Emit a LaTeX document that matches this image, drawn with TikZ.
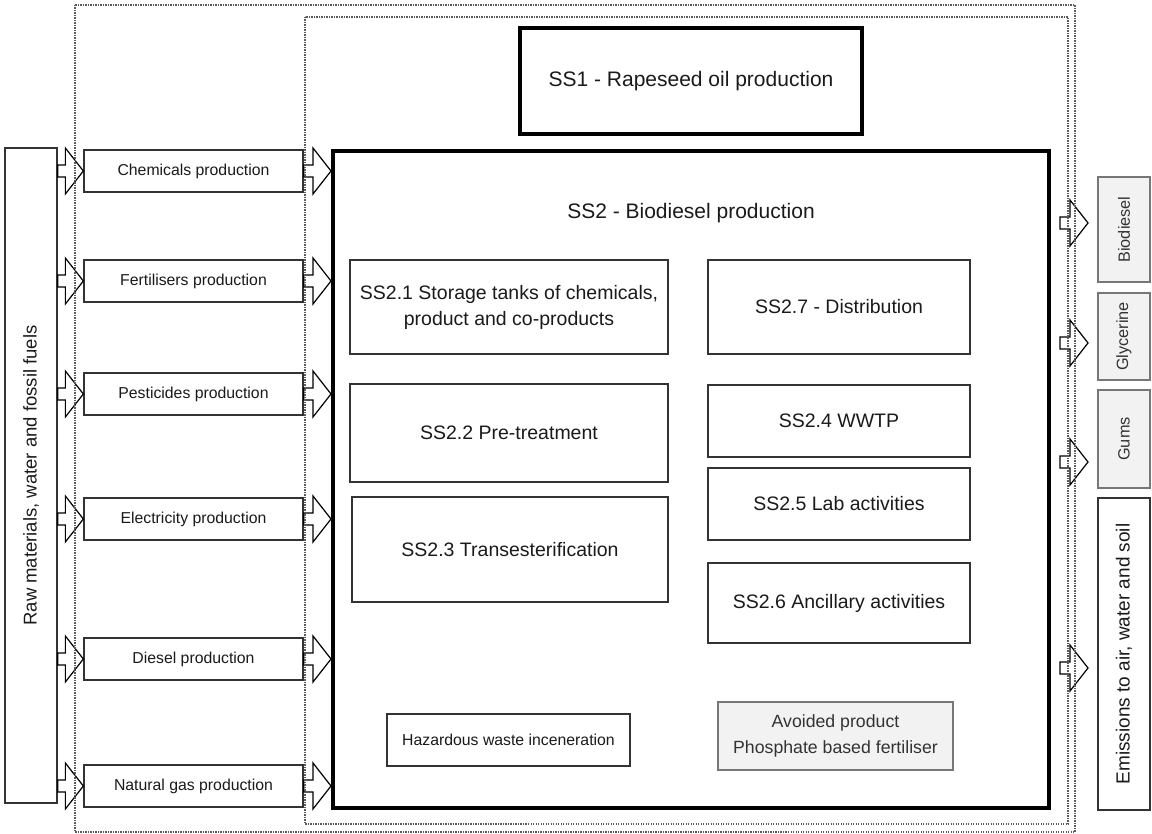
\documentclass[tikz,border=0pt]{standalone}
\usepackage{fontspec}
\setmainfont{Liberation Sans}
\usetikzlibrary{calc}

\definecolor{ink}{HTML}{1A1A1A}
\definecolor{edge}{HTML}{333333}
\definecolor{greyfill}{HTML}{F2F2F2}
\definecolor{greyedge}{HTML}{777777}
\definecolor{greytext}{HTML}{333333}
\definecolor{dotgrey}{HTML}{5A5A5A}

\tikzset{
  smalltext/.style={font=\fontsize{15.8}{19}\selectfont},
  outtext/.style={font=\fontsize{16.3}{19}\selectfont},
  midtext/.style={font=\fontsize{19.5}{26}\selectfont},
  bigtext/.style={font=\fontsize{21}{25}\selectfont},
  box/.style={draw=edge, line width=1.3pt, inner sep=0pt, align=center, text=ink},
  greybox/.style={draw=greyedge, line width=1.3pt, fill=greyfill, inner sep=0pt,
    align=center, text=greytext},
  frame/.style={draw=black, line width=4pt, inner sep=0pt, align=center, text=ink},
  blockarrow/.style={draw=black, line width=1.2pt, line join=miter},
  boundary/.style={draw=dotgrey, line width=1.3pt, dash pattern=on 1.3pt off 1.2pt}
}

% hollow block arrow: shaft starts at the x of #1, tip at #2
\newcommand\blockarr[2]{%
  \draw[blockarrow] let \p1=#1, \p2=#2 in
    (\x1,\y2+6pt) -- (\x2-18pt,\y2+6pt) -- (\x2-18pt,\y2+23pt) -- (\x2,\y2)
    -- (\x2-18pt,\y2-23pt) -- (\x2-18pt,\y2-6pt) -- (\x1,\y2-6pt) -- cycle;}

\begin{document}
\begin{tikzpicture}[x=1pt, y=-1pt]
\useasboundingbox (0,0) rectangle (1152,834);

% subsystem frames
\node[frame, bigtext, minimum width=342pt, minimum height=106pt] (ss1) at (691,81)
  {SS1 - Rapeseed oil production};
\node[frame, minimum width=716pt, minimum height=657pt] (ss2) at (691,479.5) {};
\node[bigtext, text=ink, inner sep=0pt] (ss2title) at (691,213) {SS2 - Biodiesel production};

% SS2 sub-units
\node[box, midtext, minimum width=318pt, minimum height=94pt] (s21) at (509,307)
  {SS2.1 Storage tanks of chemicals,\\product and co-products};
\node[box, midtext, minimum width=262pt, minimum height=94pt] (s27) at (839,307)
  {SS2.7 - Distribution};
\node[box, midtext, minimum width=318pt, minimum height=98pt] (s22) at (509,433)
  {SS2.2 Pre-treatment};
\node[box, midtext, minimum width=262pt, minimum height=72pt] (s24) at (839,421)
  {SS2.4 WWTP};
\node[box, midtext, minimum width=316pt, minimum height=105pt] (s23) at (510,549.5)
  {SS2.3 Transesterification};
\node[box, midtext, minimum width=262pt, minimum height=72pt] (s25) at (839,504)
  {SS2.5 Lab activities};
\node[box, midtext, minimum width=262pt, minimum height=80pt] (s26) at (839,603)
  {SS2.6 Ancillary activities};
\node[box, smalltext, minimum width=243pt, minimum height=52pt] (haz) at (508.5,740)
  {Hazardous waste inceneration};
\node[greybox, font=\fontsize{17.7}{26}\selectfont, minimum width=235pt, minimum height=68pt]
  (avoid) at (835.5,736) {Avoided product\\Phosphate based fertiliser};

% inputs
\node[box, font=\fontsize{18.5}{22}\selectfont, rotate=90, minimum width=655pt,
  minimum height=52pt] (raw) at (31,475.5) {Raw materials, water and fossil fuels};
\node[box, smalltext, minimum width=219pt, minimum height=42pt] (chem) at (193.5,171) {Chemicals production};
\node[box, smalltext, minimum width=219pt, minimum height=42pt] (fert) at (193.5,281) {Fertilisers production};
\node[box, smalltext, minimum width=219pt, minimum height=42pt] (pest) at (193.5,394) {Pesticides production};
\node[box, smalltext, minimum width=219pt, minimum height=42pt] (elec) at (193.5,519) {Electricity production};
\node[box, smalltext, minimum width=219pt, minimum height=42pt] (dies) at (193.5,659) {Diesel production};
\node[box, smalltext, minimum width=219pt, minimum height=42pt] (ngas) at (193.5,786) {Natural gas production};

% outputs
\node[greybox, outtext, rotate=90, minimum width=105pt, minimum height=52pt] (bio) at (1124,229.5) {Biodiesel};
\node[greybox, outtext, rotate=90, minimum width=87pt, minimum height=52pt] (gly) at (1124,336.5) {Glycerine};
\node[greybox, outtext, rotate=90, minimum width=98pt, minimum height=52pt] (gums) at (1124,439) {Gums};
\node[box, font=\fontsize{19}{22}\selectfont, rotate=90, minimum width=312pt,
  minimum height=52pt] (emis) at (1124,654) {Emissions to air, water and soil};

% output arrow tips and shaft starts
\coordinate (tbio) at (1088,223);
\coordinate (tgly) at (1088,343);
\coordinate (tgums) at (1088,462);
\coordinate (temis) at (1088,668);
\coordinate (sbio) at ($(ss2.east |- tbio)+(9,0)$);
\coordinate (sgly) at ($(ss2.east |- tgly)+(9,0)$);
\coordinate (sgums) at ($(ss2.east |- tgums)+(9,0)$);
\coordinate (semis) at ($(ss2.east |- temis)+(9,0)$);

% input arrows
\foreach \src in {chem,fert,pest,elec,dies,ngas}{
  \blockarr{(raw.south |- \src.west)}{(\src.west)}
  \blockarr{(\src.east)}{(ss2.west |- \src.east)}
}
% output arrows
\foreach \outp in {bio,gly,gums,emis}{
  \blockarr{(s\outp)}{(t\outp)}
}

% system boundaries
\draw[boundary] (75,5) rectangle (1075,832);
\draw[boundary] (305,17) rectangle (1068,824);
\end{tikzpicture}
\end{document}
